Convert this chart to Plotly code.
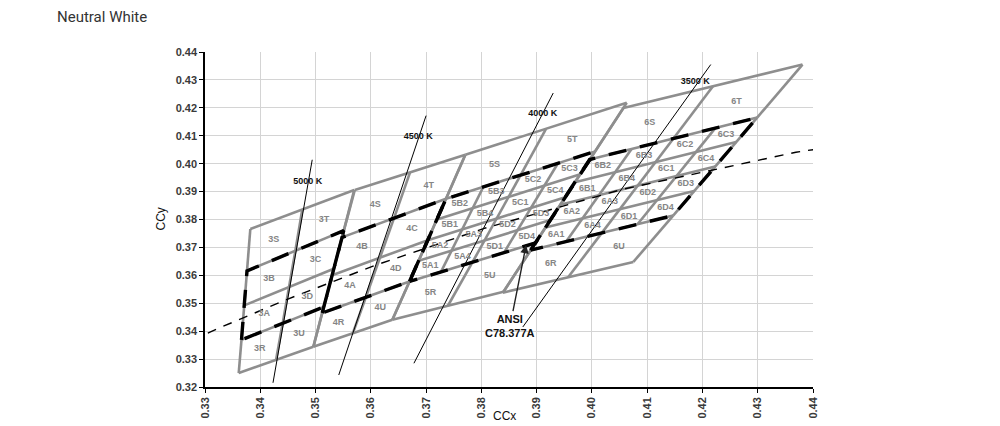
import plotly.graph_objects as go

# ANSI C78.377 quadrangles, corners: bottom-left, top-left, top-right, bottom-right
cct_names = ["5000 K", "4500 K", "4000 K", "3500 K"]
bin_groups = ["3", "4", "5", "6"]
quad_x = [
    [0.3366, 0.3376, 0.3551, 0.3515],
    [0.3512, 0.3548, 0.3736, 0.3670],
    [0.3670, 0.3736, 0.4006, 0.3898],
    [0.3889, 0.3996, 0.4299, 0.4147],
]
quad_y = [
    [0.3369, 0.3616, 0.3760, 0.3487],
    [0.3465, 0.3736, 0.3874, 0.3578],
    [0.3578, 0.3874, 0.4044, 0.3716],
    [0.3690, 0.4015, 0.4165, 0.3814],
]
# outer R/S/T/U ring, same corner order
ring_x = [
    [0.3361, 0.3382, 0.3570, 0.3496],
    [0.3496, 0.3571, 0.3771, 0.3639],
    [0.3639, 0.3771, 0.4063, 0.3840],
    [0.3839, 0.4057, 0.4381, 0.4075],
]
ring_y = [
    [0.3250, 0.3766, 0.3906, 0.3344],
    [0.3344, 0.3906, 0.4032, 0.3441],
    [0.3441, 0.4032, 0.4218, 0.3541],
    [0.3538, 0.4199, 0.4355, 0.3648],
]
sub_div = [2, 2, 4, 4]
quadrant_names = [["A", "B"], ["D", "C"]]   # [coluna][linha]
sub_numbers = [["1", "2"], ["4", "3"]]
ring_names = [["R", "S"], ["U", "T"]]

# Planckian locus
planck_x = [0.3221, 0.3324, 0.3451, 0.3608, 0.3805, 0.4053, 0.4369, 0.4526]
planck_y = [0.3318, 0.3410, 0.3516, 0.3636, 0.3768, 0.3907, 0.4041, 0.4087]

# isotherm lines and labels
iso_top_x = [0.3494, 0.3700, 0.3930, 0.4215]
iso_top_y = [0.4014, 0.4172, 0.4253, 0.4355]
iso_bot_x = [0.3423, 0.3542, 0.3678, 0.3875]
iso_bot_y = [0.3215, 0.3243, 0.3285, 0.3415]
iso_lab_x = [0.3486, 0.3686, 0.3911, 0.4187]
iso_lab_y = [0.3936, 0.4095, 0.4178, 0.4293]

ansi_head = (0.3881, 0.3709)
ansi_text = (0.3852, 0.3420)


def ponto(cx, cy, u, v):
    w = [(1 - u) * (1 - v), (1 - u) * v, u * v, u * (1 - v)]
    return sum(a * b for a, b in zip(w, cx)), sum(a * b for a, b in zip(w, cy))


gx, gy = [], []
def seg(cx, cy, u0, v0, u1, v1):
    p0 = ponto(cx, cy, u0, v0)
    p1 = ponto(cx, cy, u1, v1)
    gx.extend([p0[0], p1[0], None])
    gy.extend([p0[1], p1[1], None])

lab_x, lab_y, lab_t = [], [], []
bx, by = [], []
for g in range(4):
    qx, qy = quad_x[g], quad_y[g]
    rx, ry = ring_x[g], ring_y[g]
    n = sub_div[g]
    for i in range(n + 1):
        seg(qx, qy, i / n, 0, i / n, 1)
        seg(qx, qy, 0, i / n, 1, i / n)
    # anel superior e inferior
    tx = [qx[1], rx[1], rx[2], qx[2]]
    ty = [qy[1], ry[1], ry[2], qy[2]]
    dx = [rx[0], qx[0], qx[3], rx[3]]
    dy = [ry[0], qy[0], qy[3], ry[3]]
    for u in (0, 0.5, 1):
        seg(tx, ty, u, 0, u, 1)
        seg(dx, dy, u, 0, u, 1)
    seg(tx, ty, 0, 1, 1, 1)
    seg(dx, dy, 0, 0, 1, 0)
    # rotulos
    for c in range(n):
        for r in range(n):
            p = ponto(qx, qy, (c + 0.5) / n, (r + 0.5) / n)
            if n == 2:
                nome = bin_groups[g] + quadrant_names[c][r]
            else:
                nome = bin_groups[g] + quadrant_names[c // 2][r // 2] + sub_numbers[c % 2][r % 2]
            lab_x.append(p[0]); lab_y.append(p[1]); lab_t.append(nome)
    for c in range(2):
        p = ponto(dx, dy, 0.25 + 0.5 * c, 0.5)
        lab_x.append(p[0]); lab_y.append(p[1]); lab_t.append(bin_groups[g] + ring_names[c][0])
        p = ponto(tx, ty, 0.25 + 0.5 * c, 0.5)
        lab_x.append(p[0]); lab_y.append(p[1]); lab_t.append(bin_groups[g] + ring_names[c][1])
    bx.extend(qx + [qx[0], None])
    by.extend(qy + [qy[0], None])

fig = go.Figure()
fig.add_trace(go.Scatter(x=gx, y=gy, mode='lines', line=dict(color='#8e8e8e', width=2.6),
                         hoverinfo='skip', showlegend=False))
fig.add_trace(go.Scatter(x=bx, y=by, mode='lines', line=dict(color='black', width=3.4, dash='18px,14px'),
                         hoverinfo='skip', showlegend=False))
fig.add_trace(go.Scatter(x=planck_x, y=planck_y, mode='lines', line=dict(color='black', width=1.4, dash='9px,8px'),
                         hoverinfo='skip', showlegend=False))
for k in range(4):
    fig.add_trace(go.Scatter(x=[iso_bot_x[k], iso_top_x[k]], y=[iso_bot_y[k], iso_top_y[k]], mode='lines',
                             line=dict(color='black', width=1), hoverinfo='skip', showlegend=False))
fig.add_trace(go.Scatter(x=lab_x, y=lab_y, mode='text', text=lab_t,
                         textfont=dict(family='Liberation Sans', size=9, color='#858585', weight='bold'),
                         hoverinfo='skip', showlegend=False))
fig.add_trace(go.Scatter(x=iso_lab_x, y=iso_lab_y, mode='text', text=cct_names,
                         textfont=dict(family='Liberation Sans', size=9, color='#111111', weight='bold'),
                         hoverinfo='skip', showlegend=False))

fig.add_annotation(x=ansi_head[0], y=ansi_head[1], ax=ansi_text[0], ay=ansi_text[1],
                   axref='x', ayref='y', xref='x', yref='y',
                   text='<b>ANSI<br>C78.377A</b>', showarrow=True, arrowhead=2, arrowsize=1.2,
                   arrowwidth=1.4, arrowcolor='#222222',
                   font=dict(family='Liberation Sans', size=11, color='#111111'))
fig.add_annotation(text='CCy', xref='paper', yref='paper', x=-0.074, y=0.5, textangle=-90,
                   xanchor='center', yanchor='middle',
                   showarrow=False, font=dict(family='Liberation Sans', size=12, color='#111111'))
fig.add_annotation(text='CCx', xref='paper', yref='paper', x=0.493, y=-0.112, yanchor='bottom',
                   xanchor='center',
                   showarrow=False, font=dict(family='Liberation Sans', size=12, color='#111111'))

eixo = dict(showgrid=True, gridcolor='#d4d4d4', gridwidth=1, showline=True, linecolor='black', linewidth=1.5,
            ticks='outside', ticklen=4, tickcolor='black', dtick=0.01, tickformat='.2f', zeroline=False,
            tickfont=dict(family='Liberation Sans', size=11, color='#3a3a3a', weight='bold'))
fig.update_xaxes(eixo, range=[0.33, 0.44], tick0=0.33, tickangle=-90)
fig.update_yaxes(eixo, range=[0.32, 0.44], tick0=0.32)
fig.update_layout(
    width=1000, height=426,
    margin=dict(l=197, r=195, t=44, b=47),
    plot_bgcolor='white', paper_bgcolor='white',
    title=dict(text='Neutral White', x=0.049, xanchor='left', xref='container', y=1 - 9 / 426, yanchor='middle',
               font=dict(family='Roboto', size=15, color='#333333')),
)
fig.write_html("out.html")
